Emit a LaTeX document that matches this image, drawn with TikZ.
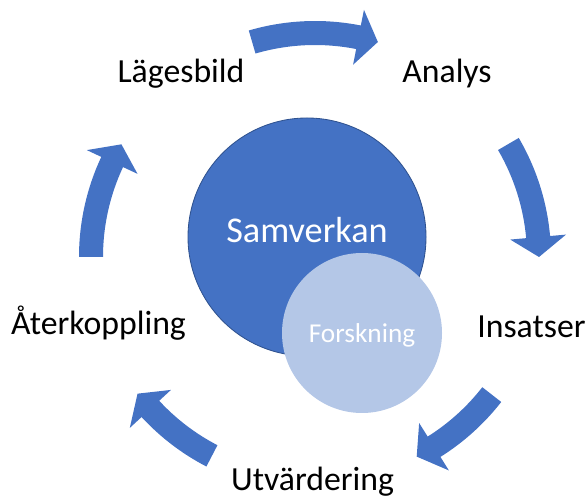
\documentclass[tikz,border=0pt]{standalone}
\usepackage{fontspec}
\setmainfont{Carlito}
\usetikzlibrary{calc}
\definecolor{accentblue}{HTML}{4472C4}
\definecolor{lightblue}{HTML}{B4C7E7}
\definecolor{edgeblue}{HTML}{2F528F}
% curved block arrow on the ring, from tail angle #1 to tip angle #2 (clockwise)
\def\ringarrow(#1:#2){\fill[accentblue] ($(ring)+(#1:\rmid+\hw)$) arc[start angle=#1, end angle=#2+\hd, radius=\rmid+\hw] -- ($(ring)+(#2+\hd:\rmid+\hh)$) -- ($(ring)+(#2:\rmid)$) -- ($(ring)+(#2+\hd:\rmid-\hh)$) -- ($(ring)+(#2+\hd:\rmid-\hw)$) arc[start angle=#2+\hd, end angle=#1, radius=\rmid-\hw] -- cycle;}

\begin{document}
\begin{tikzpicture}
	%%%%% START %%%%%
	\def\rmid{5.6}
	\def\hw{0.3}
	\def\hh{0.7}
	\def\hd{5.1}
	\def\lblsize{\fontsize{24}{28}\selectfont}

	\useasboundingbox (0,0) rectangle (14.675,12.45);
	\coordinate (ring) at (7.875,6.025);

	% the five arrows round the cycle
	\ringarrow(106.3:73.7)
	\ringarrow(30.3:0)
	\ringarrow(-37.9:-63)
	\ringarrow(242.6:217.6)
	\ringarrow(180:149.8)

	% circles in the middle
	\node[circle, fill=accentblue, draw=edgeblue, line width=0.6pt, minimum size=5.95cm, inner sep=0pt] (samverkan) at (7.675,6.525) {};
	\node[circle, fill=lightblue, minimum size=4cm, inner sep=0pt] (forskning) at (9.05,4.125) {};
	\node[anchor=base, text=white, font=\fontsize{25.8}{30}\selectfont] (samtext) at (7.675,6.375) {Samverkan};
	\node[anchor=base, text=white, font=\fontsize{19.4}{23}\selectfont] (forsktext) at (9.05,3.875) {Forskning};

	% steps
	\node[anchor=base, font=\lblsize] (lagesbild) at (4.525,10.375) {Lägesbild};
	\node[anchor=base, font=\lblsize] (analys) at (11.175,10.375) {Analys};
	\node[anchor=base west, inner sep=0pt, font=\lblsize] (insatser) at (11.925,4.0) {Insatser};
	\node[anchor=base, font=\lblsize] (utvardering) at (7.8125,0.2) {Utvärdering};
	\node[anchor=base, font=\lblsize] (aterkoppling) at (2.4625,4.075) {Återkoppling};
	%%%%% END %%%%%
\end{tikzpicture}
\end{document}
